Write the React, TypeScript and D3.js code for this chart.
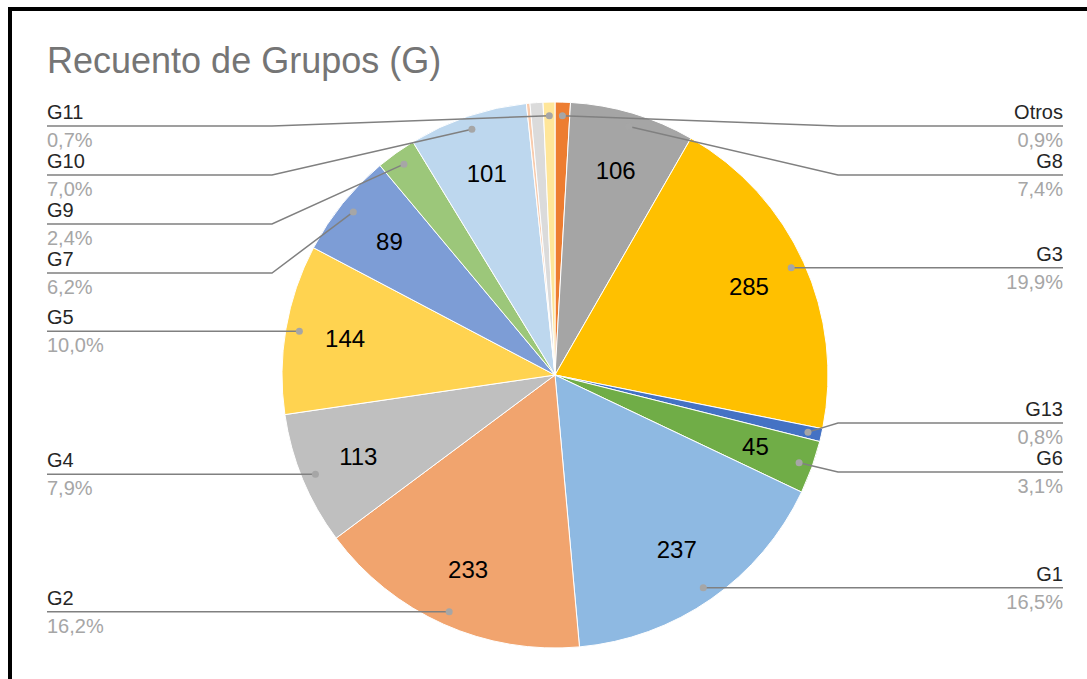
import React from "react";
import * as d3 from "d3";

// slices in drawing order, clockwise from 12 o'clock
const categories = ["Otros", "G8", "G3", "G13", "G6", "G1", "G2", "G4", "G5", "G7", "G9", "G10", "G12", "G14", "G11"];
const values = [13, 106, 285, 11, 45, 237, 233, 113, 144, 89, 34, 101, 3, 11, 10];
const colors = [
  "#ED7D31", "#A5A5A5", "#FFC000", "#4472C4", "#70AD47", "#8EB9E2", "#F1A46E", "#BFBFBF",
  "#FFD350", "#7D9DD6", "#9CC77A", "#BDD7EE", "#F8CBAD", "#DBDBDB", "#FFE699",
];
// slices without an outside label
const unlabeled = ["G12", "G14"];
const title = "Recuento de Grupos (G)";

const W = 1087;
const H = 679;
const cx = 555;
const cy = 375;
const R = 273;
const gap = 49;
const topY = 126;

type Item = { name: string; value: number; pct: string; dot: [number, number]; y: number; left: boolean };

function spread(items: Item[]) {
  const sorted = [...items].sort((a, b) => a.dot[1] - b.dot[1]);
  const clusters: { items: Item[]; top: number }[] = [];
  const place = (c: { items: Item[]; top: number }) => {
    const t = d3.mean(c.items, (d, i) => d.dot[1] - i * gap) as number;
    c.top = Math.max(topY, t);
  };
  sorted.forEach((it) => {
    const c = { items: [it], top: 0 };
    place(c);
    clusters.push(c);
    while (clusters.length > 1) {
      const b = clusters[clusters.length - 1];
      const a = clusters[clusters.length - 2];
      if (a.top + a.items.length * gap > b.top) {
        clusters.pop();
        a.items = a.items.concat(b.items);
        place(a);
      } else break;
    }
  });
  clusters.forEach((c) => c.items.forEach((it, i) => (it.y = c.top + i * gap)));
}

export default function App() {
  const total = d3.sum(values);
  const data = categories.map((name, i) => ({ name, value: values[i], color: colors[i] }));
  const pie = d3.pie<any>().sort(null).value((d) => d.value);
  const arcs = pie(data);
  const arc = d3.arc<any>().innerRadius(0).outerRadius(R);
  const dotArc = d3.arc<any>().innerRadius(R * 0.95).outerRadius(R * 0.95);
  const valArc = d3.arc<any>().innerRadius(R * 0.78).outerRadius(R * 0.78);

  const items: Item[] = arcs
    .filter((a) => !unlabeled.includes(a.data.name))
    .map((a) => {
      const [x, y] = dotArc.centroid(a);
      const mid = (a.startAngle + a.endAngle) / 2;
      return {
        name: a.data.name,
        value: a.data.value,
        pct: ((a.data.value / total) * 100).toFixed(1).replace(".", ",") + "%",
        dot: [cx + x, cy + y] as [number, number],
        y: cy + y,
        left: mid > Math.PI,
      };
    });
  spread(items.filter((d) => d.left));
  spread(items.filter((d) => !d.left));

  const font = "'Liberation Sans', Arial, sans-serif";

  return (
    <svg width={W} height={H} style={{ position: "absolute", left: 0, top: 0, background: "#fff" }} fontFamily={font}>
      <rect x={0} y={0} width={W} height={H} fill="#fff" />
      <path d={`M10,${H + 10}V9H${W + 10}`} fill="none" stroke="#000" strokeWidth={4} />
      <text x={47} y={73} fontSize={36} fill="#757575">
        {title}
      </text>
      <g transform={`translate(${cx},${cy})`}>
        {arcs.map((a) => (
          <path key={a.data.name} d={arc(a) as string} fill={a.data.color} stroke="#fff" strokeWidth={1} />
        ))}
        {arcs
          .filter((a) => a.data.value >= 40)
          .map((a) => {
            const [x, y] = valArc.centroid(a);
            return (
              <text key={a.data.name} x={x} y={y} dy="0.35em" textAnchor="middle" fontSize={24} fill="#000">
                {a.data.value}
              </text>
            );
          })}
      </g>
      {items.map((d) => {
        const x0 = d.left ? 47 : 1063;
        const elbow = d.left ? 272 : 838;
        return (
          <g key={d.name}>
            <polyline
              points={`${x0},${d.y} ${elbow},${d.y} ${d.dot[0]},${d.dot[1]}`}
              fill="none"
              stroke="#808080"
              strokeWidth={1.5}
            />
            <circle cx={d.dot[0]} cy={d.dot[1]} r={3.5} fill="#A6A6A6" />
            <text x={x0} y={d.y - 7} fontSize={20} fill="#262626" textAnchor={d.left ? "start" : "end"}>
              {d.name}
            </text>
            <text x={x0} y={d.y + 21} fontSize={20} fill="#A6A6A6" textAnchor={d.left ? "start" : "end"}>
              {d.pct}
            </text>
          </g>
        );
      })}
    </svg>
  );
}
